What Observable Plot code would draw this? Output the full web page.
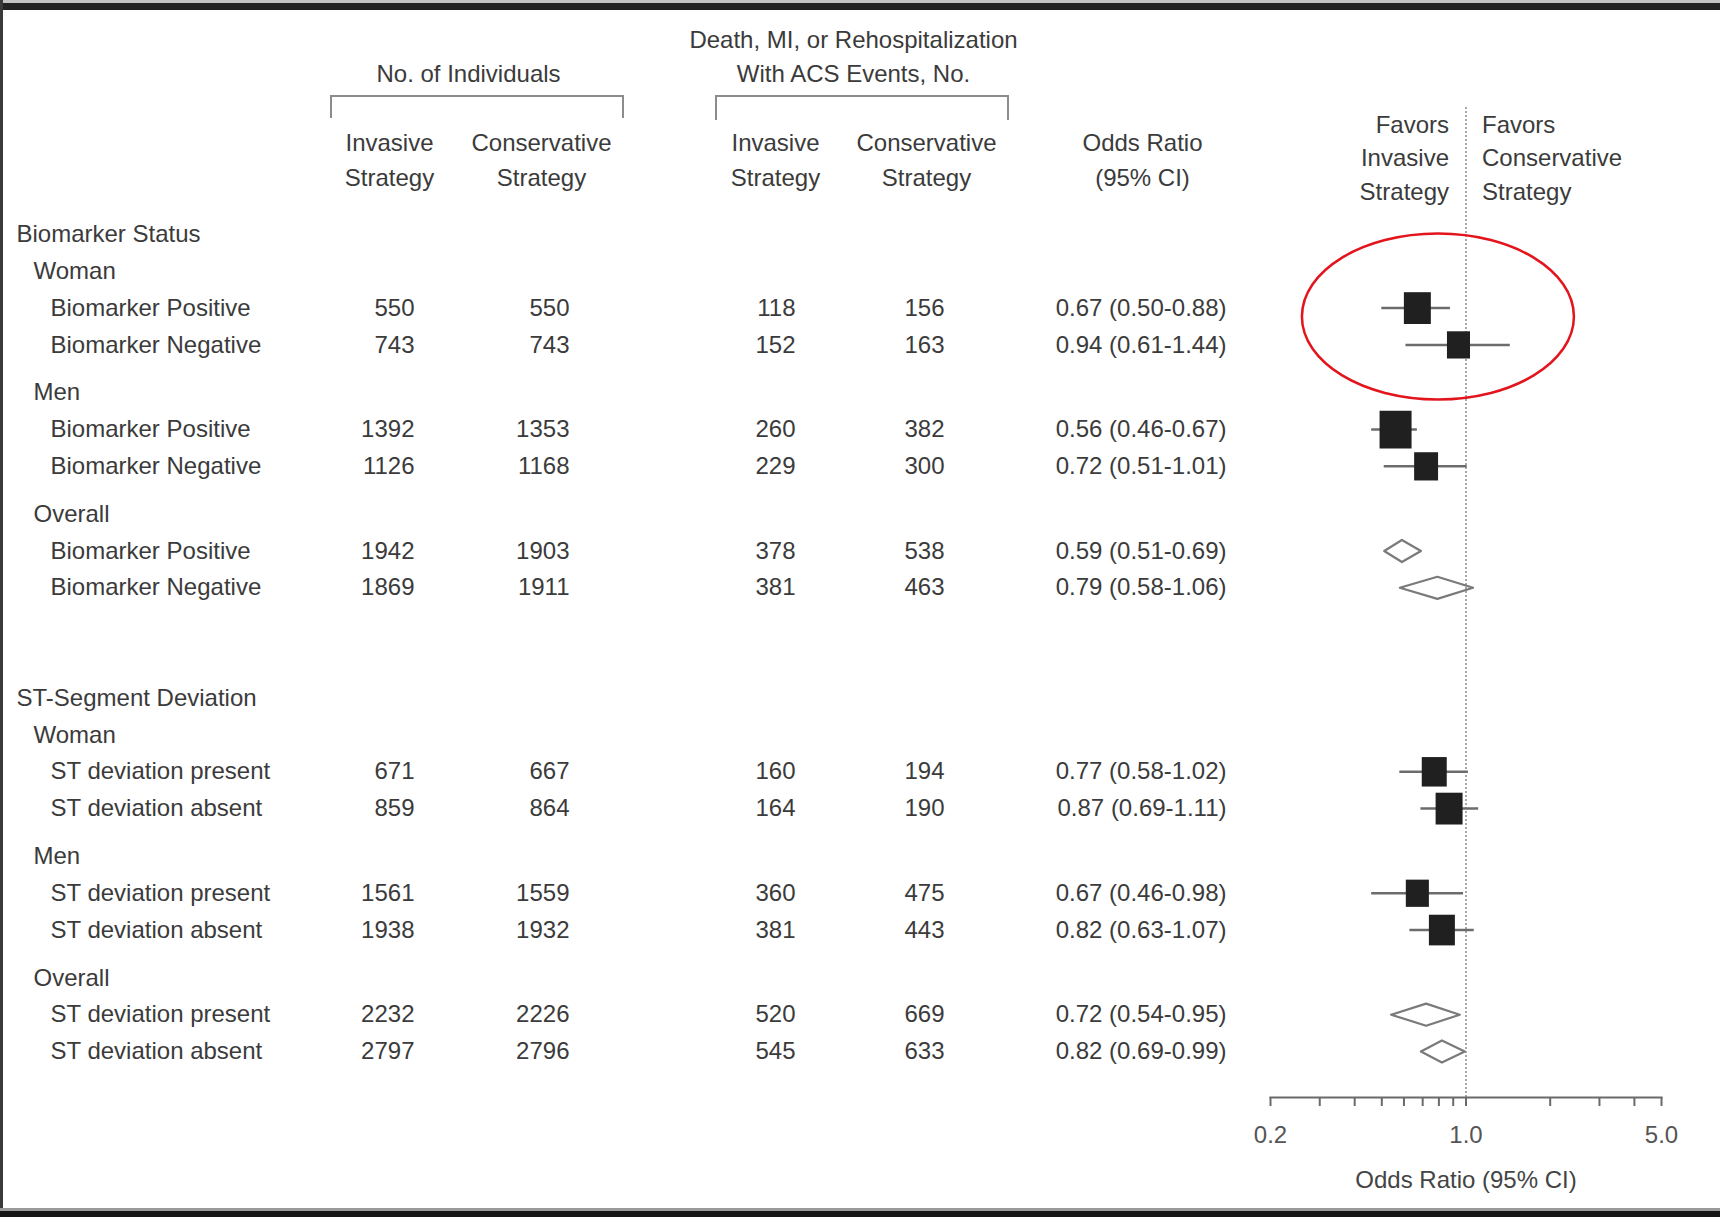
<!DOCTYPE html>
<html>
<head>
<meta charset="utf-8">
<script src="https://cdn.jsdelivr.net/npm/d3@7"></script>
<script src="https://cdn.jsdelivr.net/npm/@observablehq/plot@0.6"></script>
<style>
  html, body { margin: 0; padding: 0; background: #fff; }
  #fig { position: relative; width: 1720px; height: 1217px; overflow: hidden; background: #fff; }
  #fig svg { position: absolute; left: 0; top: 0; }
  .deco { position: absolute; }
  .bracket { position: absolute; border: 2px solid #8c8c8c; border-bottom: none; box-sizing: border-box; }
</style>
</head>
<body>
<div id="fig">
  <div class="deco" style="left:0;top:0;width:1720px;height:3px;background:#c4c4c4"></div>
  <div class="deco" style="left:0;top:3px;width:1720px;height:7px;background:#232323"></div>
  <div class="deco" style="left:0;top:0;width:3px;height:1217px;background:#3a3a3a"></div>
  <div class="deco" style="left:0;top:1208px;width:1720px;height:3px;background:#9a9a9a"></div>
  <div class="deco" style="left:0;top:1211px;width:1720px;height:6px;background:#151515"></div>
  <div class="bracket" style="left:330px;top:95px;width:294px;height:23px"></div>
  <div class="bracket" style="left:715px;top:95px;width:294px;height:25px"></div>
</div>
<script>
// ---------- data ----------
const rowLabels = [
  "Biomarker Status", "Woman", "Biomarker Positive", "Biomarker Negative",
  "Men", "Biomarker Positive", "Biomarker Negative",
  "Overall", "Biomarker Positive", "Biomarker Negative",
  "ST-Segment Deviation", "Woman", "ST deviation present", "ST deviation absent",
  "Men", "ST deviation present", "ST deviation absent",
  "Overall", "ST deviation present", "ST deviation absent"
];
const rowLevels = [0,1,2,2, 1,2,2, 1,2,2, 0,1,2,2, 1,2,2, 1,2,2];

const invasiveN          = [550, 743, 1392, 1126, 1942, 1869, 671, 859, 1561, 1938, 2232, 2797];
const conservativeN      = [550, 743, 1353, 1168, 1903, 1911, 667, 864, 1559, 1932, 2226, 2796];
const invasiveEvents     = [118, 152, 260, 229, 378, 381, 160, 164, 360, 381, 520, 545];
const conservativeEvents = [156, 163, 382, 300, 538, 463, 194, 190, 475, 443, 669, 633];
const oddsRatio = [0.67, 0.94, 0.56, 0.72, 0.59, 0.79, 0.77, 0.87, 0.67, 0.82, 0.72, 0.82];
const ciLow     = [0.50, 0.61, 0.46, 0.51, 0.51, 0.58, 0.58, 0.69, 0.46, 0.63, 0.54, 0.69];
const ciHigh    = [0.88, 1.44, 0.67, 1.01, 0.69, 1.06, 1.02, 1.11, 0.98, 1.07, 0.95, 0.99];
const isPooled  = [false, false, false, false, true, true, false, false, false, false, true, true];
const boxWeight = [71, 52, 100, 56, null, null, 61, 71, 52, 66, null, null]; // relative weight

const axisTicks  = [0.2, 0.3, 0.4, 0.5, 0.6, 0.7, 0.8, 0.9, 1, 2, 3, 4, 5];
const axisLabels = [0.2, 1, 5];

const colHeaders1 = ["Invasive\nStrategy", "Conservative\nStrategy", "Invasive\nStrategy", "Conservative\nStrategy", "Odds Ratio\n(95% CI)"];
const groupHeaders = ["No. of Individuals", "Death, MI, or Rehospitalization\nWith ACS Events, No."];
const favorsLeft  = "Favors\nInvasive\nStrategy";
const favorsRight = "Favors\nConservative\nStrategy";
const axisTitle = "Odds Ratio (95% CI)";
const highlight = {section: "Biomarker Status", subgroup: "Woman"};

// ---------- build table rows ----------
let pos = 0, prevLevel = null, section = null, subgroup = null, k = 0;
const rows = rowLabels.map((label, i) => {
  const level = rowLevels[i];
  if (i > 0) {
    pos += 1;
    if (prevLevel === 2 && level === 1) pos += 0.3;
    if (prevLevel === 2 && level === 0) pos += 2;
  }
  prevLevel = level;
  if (level === 0) section = label;
  if (level === 1) subgroup = label;
  const r = {label, level, pos, section, subgroup};
  if (level === 2) {
    Object.assign(r, {
      invN: String(invasiveN[k]), conN: String(conservativeN[k]),
      invE: String(invasiveEvents[k]), conE: String(conservativeEvents[k]),
      or: oddsRatio[k], lo: ciLow[k], hi: ciHigh[k],
      pooled: isPooled[k], weight: boxWeight[k],
      orText: `${oddsRatio[k].toFixed(2)} (${ciLow[k].toFixed(2)}-${ciHigh[k].toFixed(2)})`
    });
    k++;
  }
  return r;
});
const dataRows = rows.filter(r => r.level === 2);
const studyRows = dataRows.filter(r => !r.pooled);
const pooledRows = dataRows.filter(r => r.pooled);
const lastPos = rows[rows.length - 1].pos;

const diamondHalf = 0.3;
const diamondPts = pooledRows.flatMap((r, i) => [
  {id: i, x: r.lo, y: r.pos}, {id: i, x: r.or, y: r.pos - diamondHalf},
  {id: i, x: r.hi, y: r.pos}, {id: i, x: r.or, y: r.pos + diamondHalf},
  {id: i, x: r.lo, y: r.pos}
]);

const hl = dataRows.filter(r => r.section === highlight.section && r.subgroup === highlight.subgroup);
const hlDatum = {
  x: Math.exp(d3.mean(hl, r => Math.log(r.or))),
  y: d3.mean(hl, r => r.pos)
};

// ---------- styles ----------
const FONT = "'Liberation Sans', Arial, Helvetica, sans-serif";
const TXT = "#3b3b3b";
const yScale = {domain: [0, lastPos], range: [234, 1051], axis: null};

const boxSymbol = {draw(ctx, size) { const w = Math.sqrt(size), h = w * 1.18; ctx.rect(-w / 2, -h / 2, w, h); }};
const ellipseSymbol = {draw(ctx, size) {
  const rx = Math.sqrt(size / Math.PI), ry = rx * 0.61, c = 0.5523;
  ctx.moveTo(rx, 0);
  ctx.bezierCurveTo(rx, ry * c, rx * c, ry, 0, ry);
  ctx.bezierCurveTo(-rx * c, ry, -rx, ry * c, -rx, 0);
  ctx.bezierCurveTo(-rx, -ry * c, -rx * c, -ry, 0, -ry);
  ctx.bezierCurveTo(rx * c, -ry, rx, -ry * c, rx, 0);
  ctx.closePath();
}};

const indent = [16, 33, 50];
const colRight = [414, 569, 795, 944, 1226];
const colCenter = [389, 541, 775, 926, 1142];
const groupCenter = [{dx: 468, dy: 71}, {dx: 853, dy: 54}];

// ---------- table plot ----------
const table = Plot.plot({
  width: 1720, height: 1217,
  marginTop: 0, marginBottom: 0, marginLeft: 0, marginRight: 0,
  y: yScale,
  style: {fontFamily: FONT, background: "transparent"},
  marks: [
    ...[0, 1, 2].map(L => Plot.text(rows.filter(r => r.level === L), {
      y: "pos", text: "label", frameAnchor: "left", dx: indent[L], textAnchor: "start",
      fontSize: 24, fill: TXT, letterSpacing: L === 2 ? -0.3 : 0
    })),
    ...["invN", "conN", "invE", "conE", "orText"].map((f, i) => Plot.text(dataRows, {
      y: "pos", text: f, frameAnchor: "left", dx: colRight[i], textAnchor: "end",
      fontSize: 24, fill: TXT
    })),
    ...colHeaders1.map((h, i) => Plot.text([h], {
      text: d => d, frameAnchor: "top-left", dx: colCenter[i], dy: 156.5,
      textAnchor: "middle", lineAnchor: "middle", lineHeight: 1.46, fontSize: 24, fill: TXT
    })),
    ...groupHeaders.map((h, i) => Plot.text([h], {
      text: d => d, frameAnchor: "top-left", dx: groupCenter[i].dx, dy: groupCenter[i].dy,
      textAnchor: "middle", lineAnchor: "middle", lineHeight: 1.42, fontSize: 24, fill: TXT
    }))
  ]
});

// ---------- forest plot ----------
const forest = Plot.plot({
  width: 1720, height: 1217,
  marginTop: 107, marginBottom: 120, marginLeft: 1270, marginRight: 59,
  x: {type: "log", domain: [0.2, 5]},
  y: yScale,
  r: {type: "sqrt", domain: [0, 100], range: [0, 32 / Math.sqrt(Math.PI)]},
  style: {fontFamily: FONT, background: "transparent"},
  marks: [
    Plot.ruleX([1], {stroke: "#a8a8a8", strokeWidth: 2, strokeDasharray: "2,2"}),
    Plot.frame({anchor: "bottom", stroke: "#6a6a6a", strokeWidth: 2}),
    Plot.axisX({
      ticks: axisTicks,
      tickFormat: d => axisLabels.includes(d) ? d.toFixed(1) : "",
      tickSize: 9, tickPadding: 19, fontSize: 24,
      stroke: "#6a6a6a", strokeWidth: 2, fill: "#555", label: null
    }),
    Plot.ruleY(studyRows, {y: "pos", x1: "lo", x2: "hi", stroke: "#6c6c6c", strokeWidth: 2.5}),
    Plot.dot(studyRows, {x: "or", y: "pos", r: "weight", symbol: boxSymbol, fill: "#202020"}),
    Plot.line(diamondPts, {x: "x", y: "y", z: "id", stroke: "#7a7a7a", strokeWidth: 2.2}),
    Plot.text([favorsLeft], {x: () => 1, text: d => d, frameAnchor: "top", dy: 48, dx: -17,
      textAnchor: "end", lineAnchor: "middle", lineHeight: 1.4, fontSize: 24, fill: TXT}),
    Plot.text([favorsRight], {x: () => 1, text: d => d, frameAnchor: "top", dy: 48, dx: 16,
      textAnchor: "start", lineAnchor: "middle", lineHeight: 1.4, fontSize: 24, fill: TXT}),
    Plot.text([axisTitle], {text: d => d, frameAnchor: "bottom", dy: 83, lineAnchor: "middle",
      fontSize: 24, fill: "#444"}),
    Plot.dot([hlDatum], {x: "x", y: "y", r: 136, symbol: ellipseSymbol, dy: -10,
      stroke: "#e3141c", strokeWidth: 2.5, fill: "none"})
  ]
});

const fig = document.getElementById("fig");
fig.insertBefore(table, fig.firstChild);
fig.appendChild(forest);
</script>
</body>
</html>
